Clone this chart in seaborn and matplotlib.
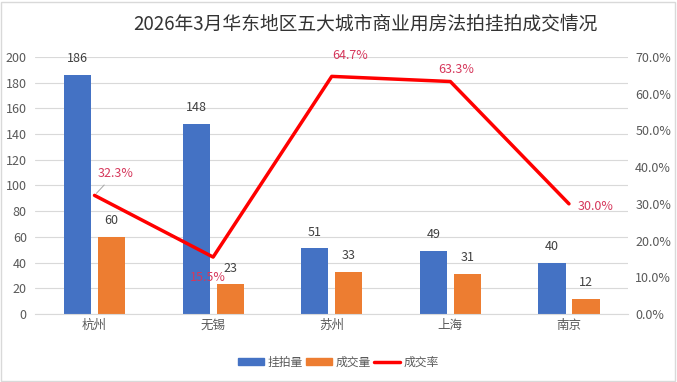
import numpy as np
import pandas as pd
import seaborn as sns
import matplotlib.pyplot as plt
from matplotlib.patches import Rectangle, Patch
from matplotlib.lines import Line2D
from matplotlib.ticker import FuncFormatter

cities = ["杭州", "无锡", "苏州", "上海", "南京"]
listed = [186, 148, 51, 49, 40]
sold = [60, 23, 33, 31, 12]
rate = [32.3, 15.5, 64.7, 63.3, 30.0]

sns.set_style("white")
plt.rcParams['font.family'] = ['Noto Sans CJK SC', 'DejaVu Sans']

blue = "#4472C4"
orange = "#ED7D31"
red = "#FF0000"
lab_red = "#D6385C"
txt = "#595959"

df = pd.DataFrame({
    "城市": cities * 2,
    "数量": listed + sold,
    "类型": ["挂拍量"] * 5 + ["成交量"] * 5,
})

fig = plt.figure(figsize=(6.77, 3.82), dpi=100)
ax = fig.add_axes([0.052, 0.178, 0.876, 0.673])
sns.barplot(data=df, x="城市", y="数量", hue="类型", palette=[blue, orange],
            width=0.573, gap=0.2, ax=ax, legend=False, saturation=1, linewidth=0)

for c in ax.containers:
    ax.bar_label(c, padding=7, fontsize=9, color="#404040")

ax.set_ylim(0, 200)
ax.set_yticks(range(0, 201, 20))
ax.set_xlim(-0.5, 4.5)
ax.set_xlabel("")
ax.set_ylabel("")
ax.grid(axis="y", color="#D9D9D9", linewidth=0.8)
ax.set_axisbelow(True)
for s in ["top", "left", "right"]:
    ax.spines[s].set_visible(False)
ax.spines["bottom"].set_color("#D9D9D9")
ax.tick_params(axis="both", length=0, labelsize=9, labelcolor=txt)
ax.tick_params(axis="y", pad=6)

ax2 = ax.twinx()
xpos = np.arange(len(cities))
sns.lineplot(x=xpos, y=rate, color=red, linewidth=2.5, ax=ax2)
ax2.set_ylim(0, 70)
ax2.set_yticks(range(0, 71, 10))
ax2.yaxis.set_major_formatter(FuncFormatter(lambda v, p: f"{v:.1f}%"))
ax2.tick_params(axis="y", length=0, labelsize=9, labelcolor=txt, pad=5)
for s in ax2.spines.values():
    s.set_visible(False)
ax2.set_xlim(-0.5, 4.5)

offsets = [(2, 16), (-4, -15), (13, 15), (4, 9), (6, -2)]
aligns = ["left", "center", "center", "center", "left"]
for i, (r, off, ha) in enumerate(zip(rate, offsets, aligns)):
    arrow = dict(arrowstyle="-", color="#A6A6A6", lw=0.7) if i == 0 else None
    ax2.annotate(f"{r:.1f}%", xy=(xpos[i], r), xytext=off, textcoords="offset points",
                 ha=ha, va="center", fontsize=9, color=lab_red, arrowprops=arrow)

fig.suptitle("2026年3月华东地区五大城市商业用房法拍挂拍成交情况", x=0.54, y=0.965,
             fontsize=13.5, color="#333333")

handles = [Patch(color=blue, label="挂拍量"), Patch(color=orange, label="成交量"),
           Line2D([0], [0], color=red, lw=2.5, label="成交率")]
fig.legend(handles=handles, loc="center", bbox_to_anchor=(0.5, 0.052), ncol=3, frameon=False,
           fontsize=8.5, handlelength=2.2, handleheight=0.6, columnspacing=0.3, handletextpad=0.3,
           labelcolor=txt)

fig.patches.append(Rectangle((0.002, 0.003), 0.995, 0.993, transform=fig.transFigure,
                             fill=False, edgecolor="#D9D9D9", linewidth=1))

fig.savefig("out.png", dpi=100)
